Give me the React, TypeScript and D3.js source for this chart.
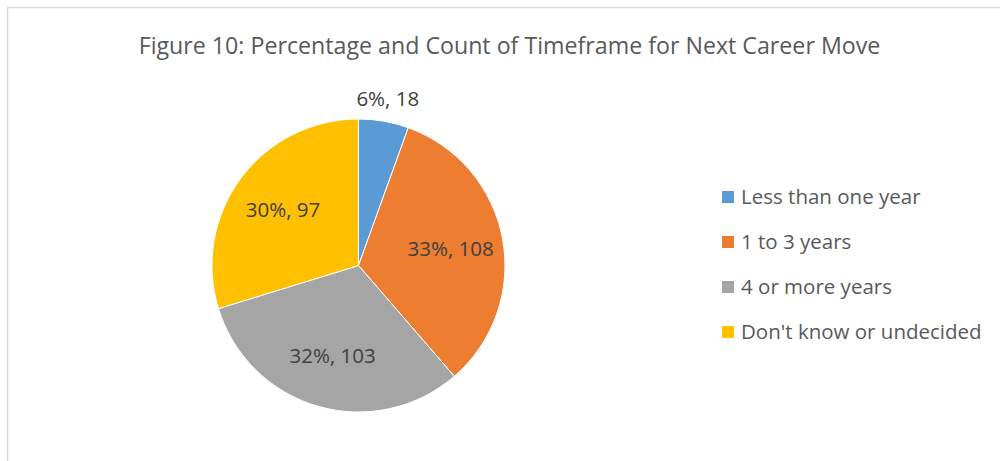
import React from "react";
import * as d3 from "d3";

const categories = ["Less than one year", "1 to 3 years", "4 or more years", "Don't know or undecided"];
const counts = [18, 108, 103, 97];
const colors = ["#5B9BD5", "#ED7D31", "#A5A5A5", "#FFC000"];
const title = "Figure 10: Percentage and Count of Timeframe for Next Career Move";

const W = 1000;
const H = 461;
const FONT = "'Open Sans', 'Noto Sans', sans-serif";

export default function App() {
  const cx = 358.5;
  const cy = 265.5;
  const R = 146.5;
  const total = d3.sum(counts);
  const pie = d3.pie<number>().sort(null).startAngle(0).endAngle(2 * Math.PI);
  const arcs = pie(counts);
  const arc = d3.arc<d3.PieArcDatum<number>>().innerRadius(0).outerRadius(R);
  const labelArc = d3.arc<d3.PieArcDatum<number>>().innerRadius(R * 0.64).outerRadius(R * 0.64);
  const outerArc = d3.arc<d3.PieArcDatum<number>>().innerRadius(R + 23).outerRadius(R + 23);
  const pct = d3.format(".0%");

  const legendY = d3.scalePoint<string>().domain(categories).range([197, 332]);

  return (
    <svg width={W} height={H} style={{ position: "absolute", left: 0, top: 0, display: "block" }}>
      <rect x={0} y={0} width={W} height={H} fill="#ffffff" />
      <rect x={7.5} y={7.5} width={W + 20} height={H + 20} fill="#ffffff" stroke="#d9d9d9" strokeWidth={1.5} />
      <text x={509.5} y={54} textAnchor="middle" fontFamily={FONT} fontSize={23.2} fill="#595959">
        {title}
      </text>
      <g transform={`translate(${cx},${cy})`}>
        {arcs.map((a, i) => (
          <path key={i} d={arc(a) || ""} fill={colors[i]} stroke="#ffffff" strokeWidth={1} />
        ))}
        {arcs.map((a, i) => {
          const small = a.endAngle - a.startAngle < 0.5;
          const [x, y] = small ? outerArc.centroid(a) : labelArc.centroid(a);
          return (
            <text
              key={"l" + i}
              x={x}
              y={y}
              dy="0.36em"
              textAnchor="middle"
              fontFamily={FONT}
              fontSize={20.5}
              fill="#404040"
            >
              {`${pct(counts[i] / total)}, ${counts[i]}`}
            </text>
          );
        })}
      </g>
      <g>
        {categories.map((c, i) => (
          <g key={c} transform={`translate(722,${legendY(c)})`}>
            <rect x={0} y={-6} width={12} height={12} fill={colors[i]} />
            <text x={19} y={0} dy="0.36em" fontFamily={FONT} fontSize={20.5} fill="#595959">
              {c}
            </text>
          </g>
        ))}
      </g>
    </svg>
  );
}
